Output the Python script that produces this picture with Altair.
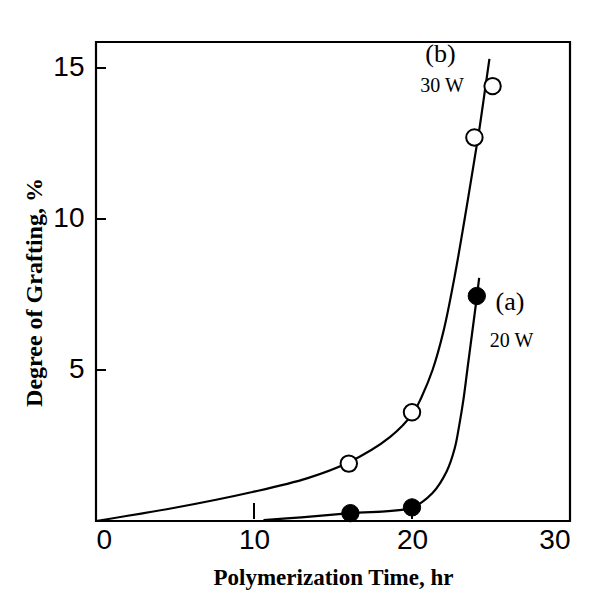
import altair as alt
import pandas as pd

# Curve (b) 30 W
curve_b_x = [0, 4.9, 9.9, 13.4, 15.9, 18.6, 20.1, 20.6, 21.3, 22.0, 22.7, 23.3, 23.9, 24.3, 24.6, 24.9]
curve_b_y = [0, 0.43, 0.96, 1.42, 1.92, 2.78, 3.6, 4.1, 5.0, 6.3, 8.1, 9.9, 11.8, 13.1, 14.2, 15.3]
# Curve (a) 20 W
curve_a_x = [10.6, 13.0, 16.1, 20.0, 21.3, 22.2, 22.7, 23.0, 23.25, 23.5, 23.8, 24.1, 24.25]
curve_a_y = [0.03, 0.12, 0.26, 0.45, 0.93, 1.65, 2.4, 3.2, 4.0, 5.0, 6.2, 7.4, 8.05]

# Measured points
open_x = [16.0, 20.0, 23.95, 25.1]
open_y = [1.9, 3.6, 12.7, 14.4]
filled_x = [16.1, 20.0, 24.1]
filled_y = [0.26, 0.45, 7.45]

# Labels
label_text = ["(b)", "30 W", "(a)", "20 W"]
label_x = [21.8, 21.9, 26.2, 26.3]
label_y = [15.45, 14.4, 7.25, 5.96]
label_size = [26, 20, 26, 20]

x_ticks = [0, 10, 20, 30]
y_ticks = [5, 10, 15]
x_inner_ticks = [10, 20]

W, H = 474, 479
xs = alt.Scale(domain=[0, 30], nice=False, zero=False)
ys = alt.Scale(domain=[0, 15.86], nice=False, zero=False)

curves = pd.DataFrame(
    {"x": curve_b_x + curve_a_x,
     "y": curve_b_y + curve_a_y,
     "s": ["b"] * len(curve_b_x) + ["a"] * len(curve_a_x)}
)

base_x = alt.X("x:Q", scale=xs, axis=alt.Axis(
    values=x_ticks, tickSize=0, domain=False, grid=False,
    labelFont="Liberation Sans", labelFontSize=28, labelColor="black",
    labelPadding=5, title="Polymerization Time, hr", titleFont="Liberation Serif",
    titleFontSize=23, titleFontWeight="bold", titleColor="black", titlePadding=12))
base_y = alt.Y("y:Q", scale=ys, axis=alt.Axis(
    values=y_ticks, tickSize=0, domain=False, grid=False,
    labelFont="Liberation Sans", labelFontSize=28, labelColor="black",
    labelPadding=12, title="Degree of Grafting, %", titleFont="Liberation Serif",
    titleFontSize=24, titleFontWeight="bold", titleColor="black", titlePadding=6,
    titleY=250))

lines = alt.Chart(curves).mark_line(color="black", strokeWidth=2.2, interpolate="catmull-rom").encode(
    x=base_x, y=base_y, detail="s:N")

open_pts = alt.Chart(pd.DataFrame({"x": open_x, "y": open_y})).mark_point(
    shape="circle", filled=True, fill="white", stroke="black", strokeWidth=2, size=270, opacity=1
).encode(x=alt.X("x:Q", scale=xs), y=alt.Y("y:Q", scale=ys))

filled_pts = alt.Chart(pd.DataFrame({"x": filled_x, "y": filled_y})).mark_point(
    shape="circle", filled=True, fill="black", stroke="black", strokeWidth=1, size=300, opacity=1
).encode(x=alt.X("x:Q", scale=xs), y=alt.Y("y:Q", scale=ys))

xt = alt.Chart(pd.DataFrame({"x": x_inner_ticks})).mark_rule(color="black", strokeWidth=2).encode(
    x=alt.X("x:Q", scale=xs), y=alt.value(H - 2), y2=alt.value(H - 18))
yt = alt.Chart(pd.DataFrame({"y": y_ticks})).mark_rule(color="black", strokeWidth=2).encode(
    y=alt.Y("y:Q", scale=ys), x=alt.value(0), x2=alt.value(10))

labels = alt.Chart(pd.DataFrame({"t": label_text, "x": label_x, "y": label_y, "fs": label_size})).mark_text(
    font="Liberation Serif", color="black", align="center", baseline="middle"
).encode(x=alt.X("x:Q", scale=xs), y=alt.Y("y:Q", scale=ys), text="t:N",
         size=alt.Size("fs:Q", scale=None, legend=None))

chart = alt.layer(xt, yt, lines, open_pts, filled_pts, labels).properties(
    width=W, height=H,
    background="white",
    autosize=alt.AutoSizeParams(type="none"),
    padding={"left": 96, "top": 42, "right": 20, "bottom": 78},
).configure_view(stroke="black", strokeWidth=2.2)

chart.save("out.html", embed_options={"renderer": "svg", "actions": False})
